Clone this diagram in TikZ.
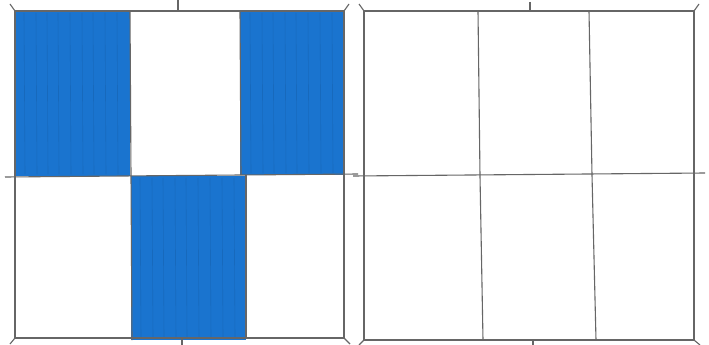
\documentclass[tikz,border=0pt]{standalone}
\begin{document}
\begin{tikzpicture}[x=1pt,y=-1pt,
  gridline/.style={draw=black!60,line width=1.1pt},
  streak/.style={draw=cellblue!75!black,line width=0.6pt,opacity=0.35}]
\definecolor{cellblue}{HTML}{1A74CF}
\useasboundingbox[fill=white] (0,0) rectangle (709,345);
% left square: filled cells
\fill[cellblue] (15,11) rectangle (130,176);
\fill[cellblue] (240,11) rectangle (344,175);
\fill[cellblue] (131,176) rectangle (246,340);
% marker streaks
\foreach \x in {24,36,47,58,70,82,93,105,117}
  \draw[streak] (\x,13) -- (\x+1,174);
\foreach \x in {250,262,273,285,296,308,320,332}
  \draw[streak] (\x,13) -- (\x+1,173);
\foreach \x in {140,152,163,175,186,198,210,222,234}
  \draw[streak] (\x,178) -- (\x+1,338);
% left square grid
\draw[gridline] (15,11) rectangle (344,338);
\draw[gridline] (5,177) -- (358,174);
\draw[gridline] (130,11) -- (131,176);
\draw[gridline] (240,11) -- (241,175);
\draw[gridline] (131,176) -- (132,340);
\draw[gridline] (246,175) -- (246,338);
\draw[gridline] (178,0) -- (178,11);
\draw[gridline] (182,338) -- (182,345);
\draw[gridline] (15,11) -- (10,4);
\draw[gridline] (344,11) -- (349,4);
\draw[gridline] (15,338) -- (10,344);
\draw[gridline] (344,338) -- (350,344);
% right square grid
\draw[gridline] (364,11) rectangle (694,340);
\draw[gridline] (353,176) -- (705,173);
\draw[gridline] (478,11) -- (480,176) -- (483,340);
\draw[gridline] (589,11) -- (592,175) -- (596,340);
\draw[gridline] (530,2) -- (530,11);
\draw[gridline] (533,340) -- (533,345);
\draw[gridline] (364,11) -- (359,4);
\draw[gridline] (694,11) -- (699,4);
\draw[gridline] (364,340) -- (359,345);
\draw[gridline] (694,340) -- (700,345);
\end{tikzpicture}
\end{document}
